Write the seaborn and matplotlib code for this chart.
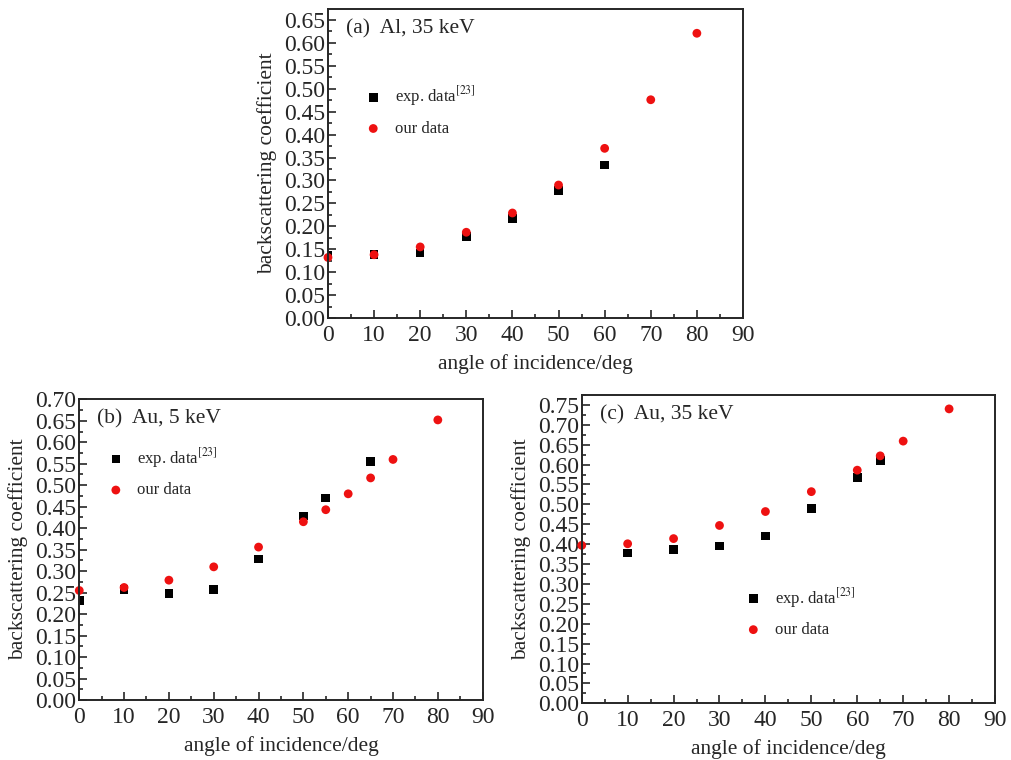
import numpy as np
import pandas as pd
import seaborn as sns
import matplotlib.pyplot as plt
from matplotlib.ticker import MultipleLocator

# Data
angle_a_exp = [0, 10, 20, 30, 40, 50, 60]
bsc_a_exp = [0.137, 0.138, 0.142, 0.178, 0.217, 0.278, 0.334]
angle_a_our = [0, 10, 20, 30, 40, 50, 60, 70, 80]
bsc_a_our = [0.132, 0.138, 0.155, 0.187, 0.229, 0.290, 0.370, 0.476, 0.621]

angle_b_exp = [0, 10, 20, 30, 40, 50, 55, 65]
bsc_b_exp = [0.232, 0.257, 0.248, 0.257, 0.328, 0.428, 0.470, 0.555]
angle_b_our = [0, 10, 20, 30, 40, 50, 55, 60, 65, 70, 80]
bsc_b_our = [0.255, 0.262, 0.279, 0.310, 0.356, 0.415, 0.443, 0.480, 0.517, 0.560, 0.652]

angle_c_exp = [10, 20, 30, 40, 50, 60, 65]
bsc_c_exp = [0.378, 0.386, 0.395, 0.421, 0.490, 0.567, 0.610]
angle_c_our = [0, 10, 20, 30, 40, 50, 60, 65, 70, 80]
bsc_c_our = [0.397, 0.401, 0.414, 0.447, 0.482, 0.532, 0.586, 0.622, 0.659, 0.740]

sns.set_style('ticks')
plt.rcParams['font.family'] = ['Liberation Serif', 'DejaVu Serif']
plt.rcParams['mathtext.fontset'] = 'stix'

fig = plt.figure(figsize=(10.11, 7.6), dpi=100)

panels = [
    # rect, title, exp, our, ymax, legend anchor
    ([0.3244, 0.5816, 0.4105, 0.4066], '(a)  Al, 35 keV',
     (angle_a_exp, bsc_a_exp), (angle_a_our, bsc_a_our), 0.674, (0.089, 0.756)),
    ([0.0784, 0.0789, 0.3990, 0.3957], '(b)  Au, 5 keV',
     (angle_b_exp, bsc_b_exp), (angle_b_our, bsc_b_our), 0.70, (0.07, 0.845)),
    ([0.5754, 0.0746, 0.4088, 0.4057], '(c)  Au, 35 keV',
     (angle_c_exp, bsc_c_exp), (angle_c_our, bsc_c_our), 0.775, (0.395, 0.382)),
]

for rect, title, exp, our, ymax, anchor in panels:
    ax = fig.add_axes(rect)
    sns.scatterplot(x=exp[0], y=exp[1], ax=ax, marker='s', color='black',
                    s=38, edgecolor='none', label='exp. data$^{\\mathrm{[23]}}$')
    sns.scatterplot(x=our[0], y=our[1], ax=ax, marker='o', color='#ee1111',
                    s=40, edgecolor='none', label='our data', clip_on=False)
    ax.set_xlim(0, 90)
    ax.set_ylim(0, ymax)
    ax.xaxis.set_major_locator(MultipleLocator(10))
    ax.xaxis.set_minor_locator(MultipleLocator(5))
    ax.yaxis.set_major_locator(MultipleLocator(0.05))
    ax.yaxis.set_minor_locator(MultipleLocator(0.025))
    ax.yaxis.set_major_formatter(plt.FormatStrFormatter('%.2f'))
    ax.tick_params(which='both', direction='in', labelsize=17, width=1.2)
    ax.tick_params(which='major', length=6)
    ax.tick_params(axis='y', which='major', pad=2)
    ax.tick_params(axis='x', which='major', pad=5)
    ax.tick_params(which='minor', length=3)
    for sp in ax.spines.values():
        sp.set_linewidth(1.4)
    ax.set_xlabel('angle of incidence/deg', fontsize=15.5, labelpad=6)
    ax.set_ylabel('backscattering coefficient', fontsize=15.5, labelpad=5)
    ax.text(0.043, 0.935, title, transform=ax.transAxes, fontsize=15.5,
            va='center', ha='left')
    ax.legend(loc='upper left', bbox_to_anchor=anchor, frameon=False,
              fontsize=12, handlelength=1.0, handletextpad=0.8,
              labelspacing=0.75, borderpad=0, borderaxespad=0)

fig.savefig('out.png', dpi=100)
